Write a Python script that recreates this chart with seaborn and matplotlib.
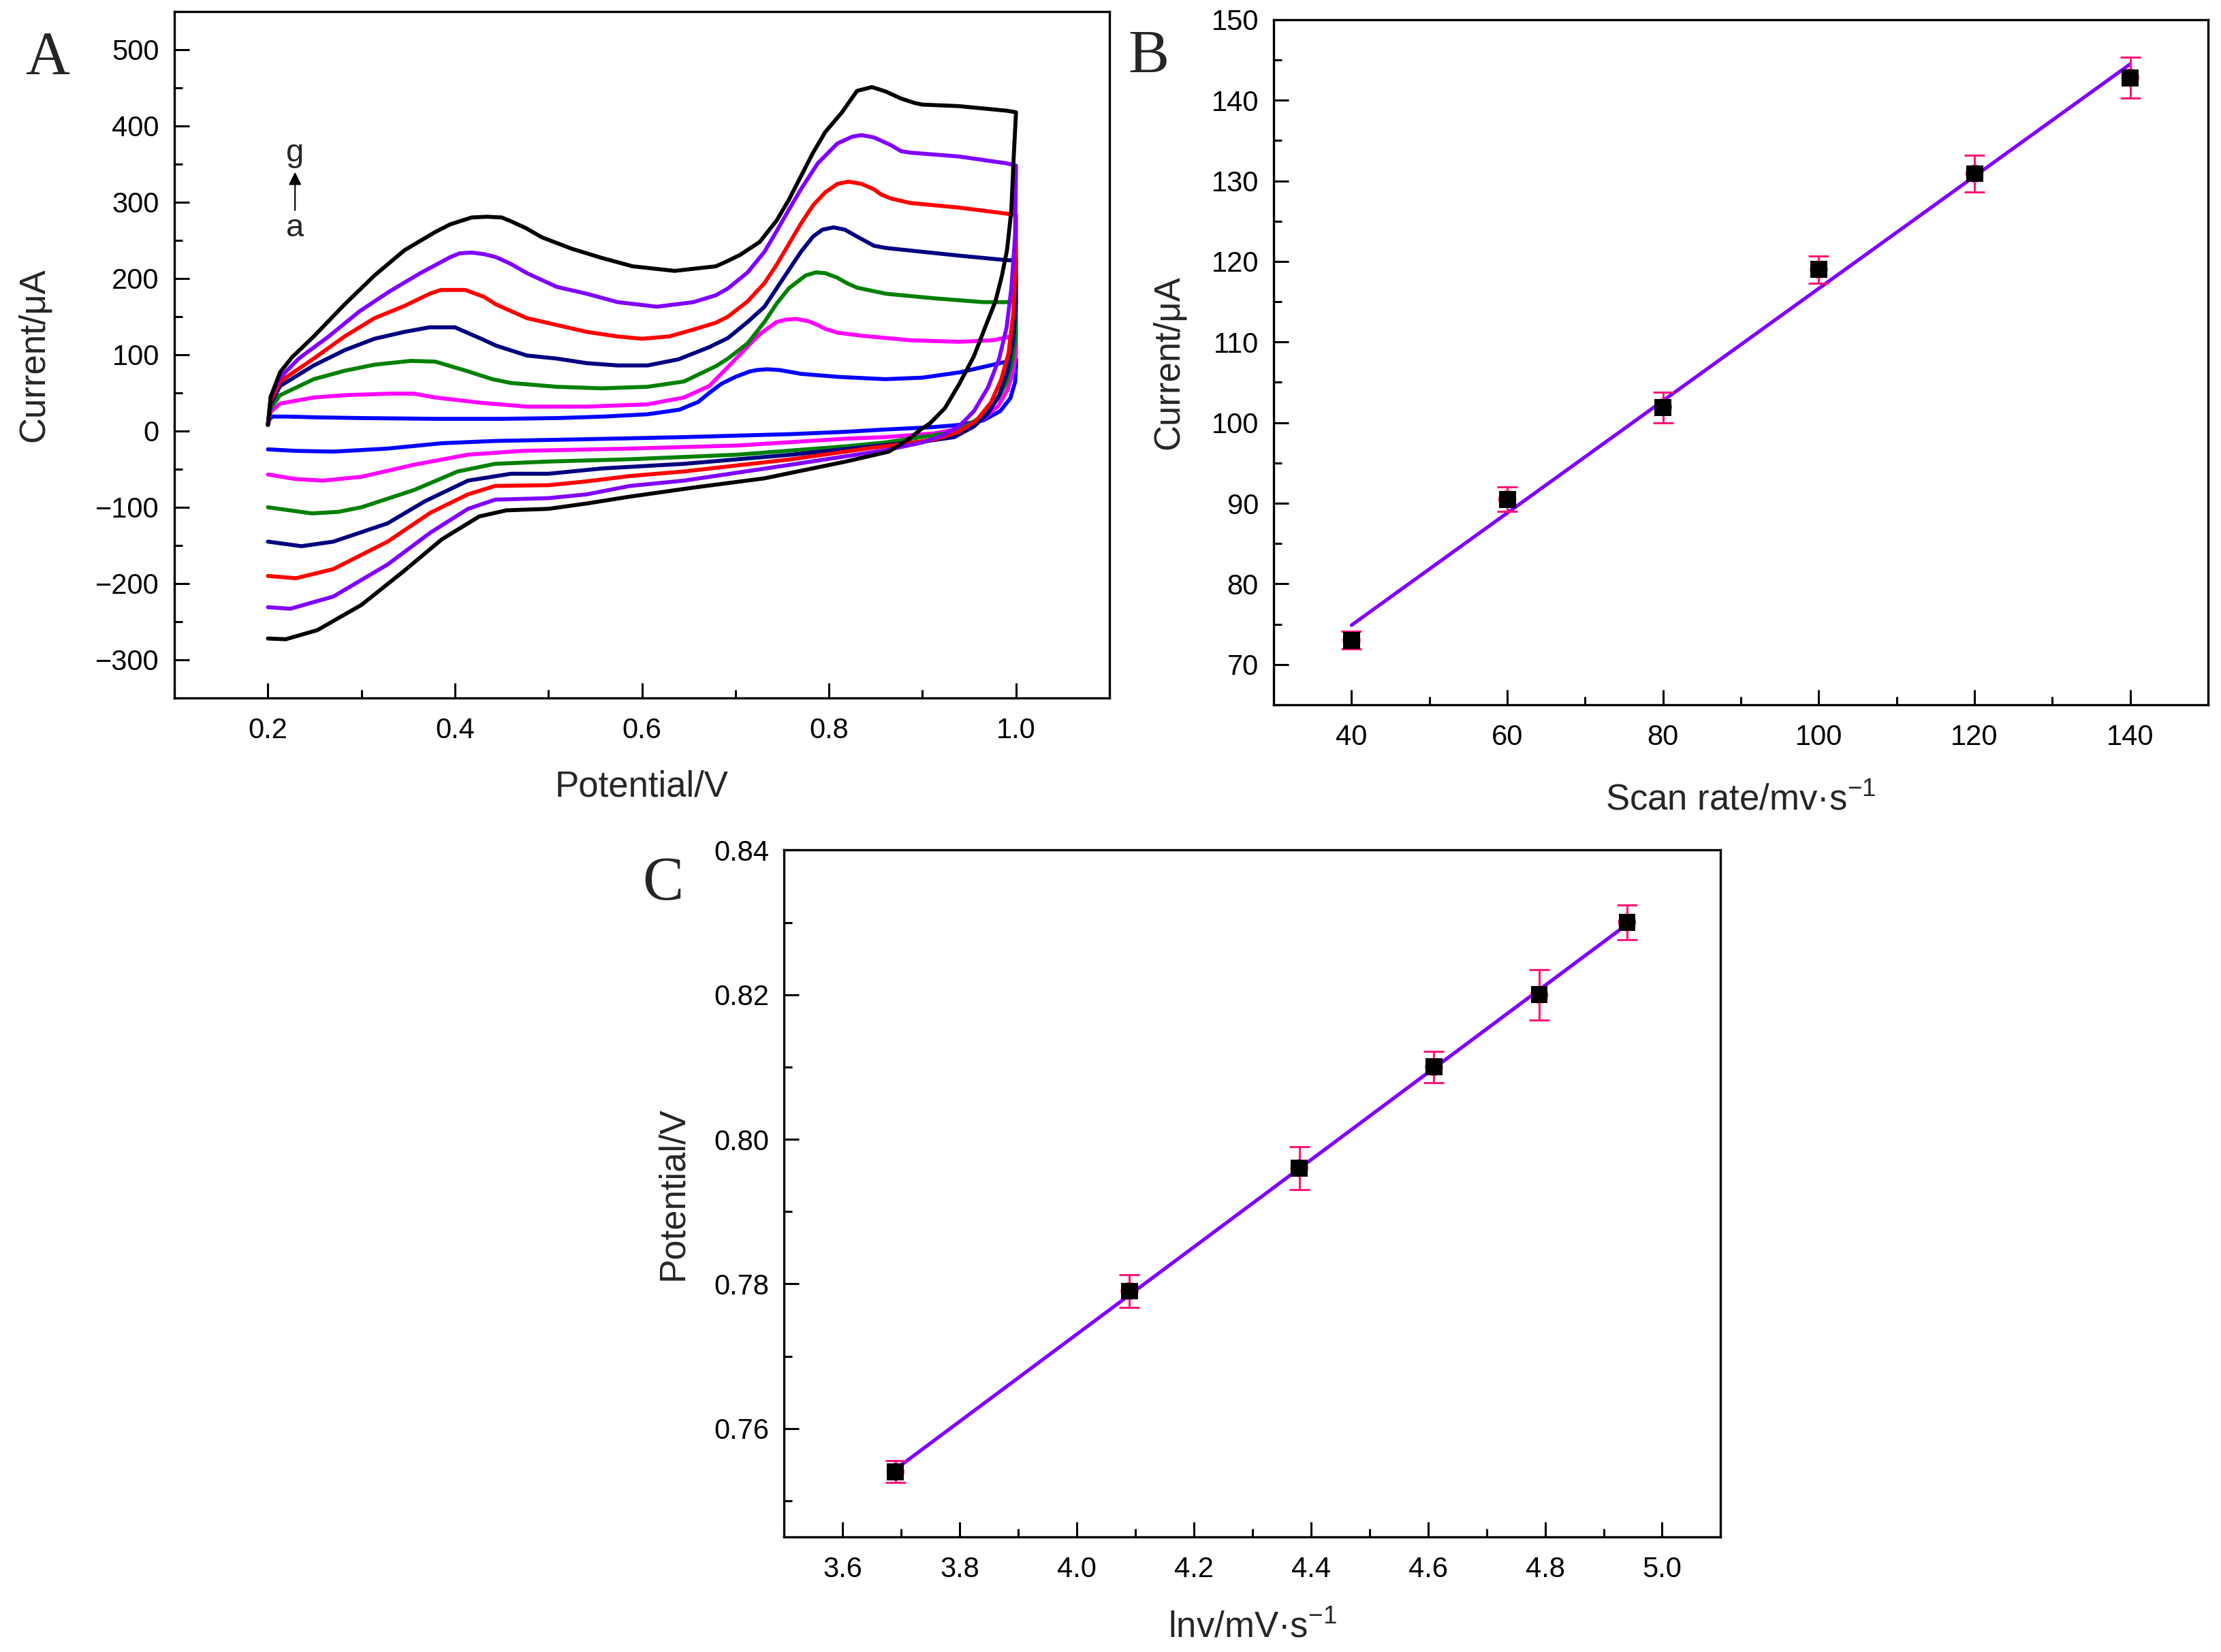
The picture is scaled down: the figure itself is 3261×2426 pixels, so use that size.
import numpy as np
import pandas as pd
import seaborn as sns
from matplotlib import pyplot as plt
from matplotlib.ticker import MultipleLocator, FormatStrFormatter

# ---- data ----
# panel A: cyclic voltammograms a..g, anodic sweep then cathodic sweep (V, uA)
cv_a_v = [0.200, 0.202, 0.205, 0.22, 0.25, 0.30, 0.38, 0.45, 0.51, 0.56, 0.606, 0.64, 0.66, 0.672, 0.685, 0.70, 0.715, 0.723, 0.734, 0.747, 0.77, 0.81, 0.86, 0.90, 0.94, 0.965, 0.99, 1.0,
          1.0, 0.999, 0.994, 0.983, 0.965, 0.939, 0.91, 0.86, 0.818, 0.76, 0.645, 0.53, 0.443, 0.386, 0.328, 0.27, 0.23, 0.2]
cv_a_i = [8, 16, 19, 19, 18, 17, 16, 16, 17, 19, 22, 28, 38, 50, 62, 71, 78, 80, 81, 80, 75, 71, 68, 70, 77, 84, 91, 95,
          84, 64, 43, 26, 14, 8, 5, 2, -1, -4, -8, -11, -13, -16, -23, -27, -26, -24]

cv_b_v = [0.2, 0.203, 0.213, 0.249, 0.282, 0.33, 0.356, 0.379, 0.428, 0.477, 0.541, 0.606, 0.645, 0.672, 0.692, 0.71, 0.726, 0.744, 0.754, 0.765, 0.778, 0.788, 0.796, 0.809, 0.835, 0.887, 0.939, 0.975, 0.991, 1.0,
          1.0, 0.997, 0.991, 0.981, 0.965, 0.939, 0.913, 0.86, 0.818, 0.702, 0.587, 0.472, 0.414, 0.357, 0.3, 0.259, 0.23, 0.2]
cv_b_i = [8, 25, 36, 44, 47, 49, 49, 44, 37, 32, 32, 35, 44, 59, 84, 107, 127, 143, 146, 147, 144, 139, 134, 129, 125, 119, 117, 119, 123, 127,
          102, 78, 54, 33, 16, 3, -3, -8, -10, -19, -23, -26, -31, -44, -60, -65, -63, -57]

cv_c_v = [0.2, 0.203, 0.213, 0.249, 0.282, 0.314, 0.353, 0.379, 0.412, 0.44, 0.46, 0.509, 0.557, 0.606, 0.645, 0.679, 0.692, 0.713, 0.731, 0.744, 0.757, 0.775, 0.786, 0.796, 0.809, 0.819, 0.83, 0.861, 0.913, 0.965, 0.99, 1.0,
          1.0, 0.996, 0.99, 0.981, 0.965, 0.947, 0.926, 0.86, 0.818, 0.702, 0.587, 0.5, 0.443, 0.403, 0.357, 0.3, 0.275, 0.247, 0.2]
cv_c_i = [8, 30, 47, 68, 79, 87, 92, 91, 79, 68, 63, 58, 56, 58, 65, 85, 95, 115, 143, 167, 187, 204, 208, 207, 201, 194, 188, 180, 174, 169, 169, 171,
          126, 91, 64, 43, 20, 7, -3, -15, -20, -31, -37, -40, -43, -53, -77, -100, -106, -108, -100]

cv_d_v = [0.2, 0.203, 0.213, 0.249, 0.282, 0.314, 0.346, 0.373, 0.4, 0.428, 0.444, 0.477, 0.509, 0.541, 0.574, 0.606, 0.639, 0.672, 0.692, 0.713, 0.731, 0.744, 0.757, 0.77, 0.783, 0.793, 0.805, 0.817, 0.83, 0.848, 0.861, 0.9, 0.939, 0.99, 1.0,
          1.0, 0.997, 0.991, 0.982, 0.97, 0.955, 0.934, 0.9, 0.846, 0.76, 0.645, 0.558, 0.5, 0.46, 0.414, 0.368, 0.328, 0.27, 0.236, 0.2]
cv_d_i = [8, 35, 59, 86, 106, 121, 130, 136, 136, 121, 112, 99, 95, 89, 86, 86, 94, 110, 122, 143, 163, 187, 211, 235, 255, 264, 267, 264, 255, 243, 240, 235, 230, 224, 224,
          170, 119, 78, 47, 23, 6, -8, -14, -20, -31, -43, -49, -56, -56, -65, -92, -121, -145, -151, -145]

cv_e_v = [0.2, 0.203, 0.213, 0.249, 0.282, 0.314, 0.346, 0.373, 0.385, 0.411, 0.431, 0.444, 0.477, 0.509, 0.541, 0.574, 0.6, 0.629, 0.655, 0.679, 0.692, 0.713, 0.731, 0.744, 0.757, 0.77, 0.783, 0.796, 0.809, 0.821, 0.835, 0.848, 0.856, 0.866, 0.887, 0.939, 0.99, 1.0,
          1.0, 0.997, 0.992, 0.984, 0.973, 0.957, 0.939, 0.913, 0.874, 0.846, 0.76, 0.645, 0.587, 0.541, 0.5, 0.443, 0.414, 0.374, 0.328, 0.27, 0.23, 0.2]
cv_e_i = [8, 40, 65, 95, 124, 148, 164, 180, 185, 185, 176, 166, 148, 139, 130, 124, 121, 124, 133, 142, 150, 170, 194, 218, 245, 272, 296, 313, 324, 327, 324, 317, 310, 305, 299, 293, 285, 283,
          221, 153, 102, 67, 37, 13, -1, -11, -18, -22, -37, -53, -59, -66, -71, -72, -83, -107, -145, -181, -193, -190]

cv_f_v = [0.2, 0.203, 0.213, 0.233, 0.265, 0.298, 0.33, 0.363, 0.395, 0.405, 0.418, 0.431, 0.444, 0.46, 0.477, 0.509, 0.541, 0.574, 0.616, 0.655, 0.679, 0.692, 0.713, 0.731, 0.744, 0.757, 0.77, 0.788, 0.809, 0.825, 0.835, 0.848, 0.866, 0.877, 0.887, 0.939, 0.99, 1.0,
          1.0, 0.999, 0.995, 0.99, 0.982, 0.97, 0.955, 0.939, 0.921, 0.9, 0.861, 0.76, 0.645, 0.587, 0.541, 0.5, 0.443, 0.414, 0.374, 0.328, 0.27, 0.224, 0.2]
cv_f_i = [8, 45, 70, 95, 124, 157, 183, 207, 228, 233, 234, 232, 228, 219, 207, 189, 180, 169, 163, 169, 178, 187, 208, 235, 262, 290, 317, 351, 377, 386, 388, 385, 375, 367, 365, 360, 351, 348,
          344, 255, 187, 136, 95, 57, 26, 6, -6, -15, -25, -44, -65, -72, -83, -88, -90, -102, -133, -175, -217, -233, -231]

cv_g_v = [0.2, 0.203, 0.213, 0.226, 0.249, 0.282, 0.314, 0.346, 0.379, 0.395, 0.405, 0.418, 0.434, 0.45, 0.46, 0.476, 0.493, 0.525, 0.557, 0.59, 0.635, 0.679, 0.69, 0.705, 0.726, 0.744, 0.757, 0.77, 0.783, 0.796, 0.814, 0.83, 0.846, 0.861, 0.877, 0.892, 0.9, 0.939, 0.99, 1.0,
          1.0, 0.9975, 0.995, 0.9905, 0.985, 0.978, 0.967, 0.955, 0.939, 0.924, 0.908, 0.898, 0.886, 0.864, 0.818, 0.731, 0.656, 0.587, 0.541, 0.5, 0.455, 0.426, 0.386, 0.345, 0.3, 0.253, 0.219, 0.2]
cv_g_i = [8, 45, 77, 97, 124, 166, 204, 237, 261, 271, 275, 280, 281, 280, 275, 266, 254, 239, 227, 216, 210, 216, 222, 231, 248, 276, 303, 334, 365, 392, 418, 446, 451, 445, 436, 430, 428, 426, 420, 418,
          417, 358, 289, 238, 204, 170, 136, 98, 61, 30, 10, 2, -10, -27, -40, -62, -74, -86, -95, -102, -104, -112, -142, -184, -228, -261, -273, -272]

cv_names = ['a', 'b', 'c', 'd', 'e', 'f', 'g']
cv_colors = ['#0000FF', '#FF00FF', '#008000', '#000080', '#FF0000', '#8000FF', '#000000']

# panel B: peak current vs scan rate
scan_rate = [40, 60, 80, 100, 120, 140]
peak_current = [73.0, 90.5, 101.9, 119.0, 130.9, 142.8]
current_err = [1.1, 1.55, 1.9, 1.7, 2.3, 2.5]

# panel C: peak potential vs ln(scan rate)
ln_rate = [3.69, 4.09, 4.38, 4.61, 4.79, 4.94]
peak_potential = [0.754, 0.779, 0.796, 0.810, 0.820, 0.830]
potential_err = [0.0015, 0.0023, 0.003, 0.0022, 0.0035, 0.0024]

# ---- style ----
sns.set_theme(style='ticks')
plt.rcParams['font.family'] = ['Liberation Sans', 'DejaVu Sans']
plt.rcParams['mathtext.default'] = 'regular'
plt.rcParams['axes.linewidth'] = 2.4
plt.rcParams['axes.edgecolor'] = 'black'
for ax_ in ['xtick', 'ytick']:
    plt.rcParams[ax_ + '.direction'] = 'in'
    plt.rcParams[ax_ + '.major.size'] = 16
    plt.rcParams[ax_ + '.minor.size'] = 8.5
    plt.rcParams[ax_ + '.major.width'] = 2.2
    plt.rcParams[ax_ + '.minor.width'] = 2.2
    plt.rcParams[ax_ + '.labelsize'] = 30
    plt.rcParams[ax_ + '.color'] = 'black'

label_fs = 38
fit_color = '#8000FF'
err_color = '#FF1477'

fig = plt.figure(figsize=(32.62, 24.26), dpi=100)
axA = fig.add_axes([0.0785, 0.5775, 0.4209, 0.4155])
axB = fig.add_axes([0.5733, 0.5734, 0.4206, 0.4147])
axC = fig.add_axes([0.3530, 0.0697, 0.4215, 0.4157])

# ---- panel A ----
cv_v = [cv_a_v, cv_b_v, cv_c_v, cv_d_v, cv_e_v, cv_f_v, cv_g_v]
cv_i = [cv_a_i, cv_b_i, cv_c_i, cv_d_i, cv_e_i, cv_f_i, cv_g_i]
for v, i, c in zip(cv_v, cv_i, cv_colors):
    sns.lineplot(x=v, y=i, sort=False, estimator=None, color=c, lw=4.2,
                 solid_joinstyle='round', ax=axA)

axA.set_xlim(0.1, 1.1)
axA.set_ylim(-350, 550)
axA.set_xticks([0.2, 0.4, 0.6, 0.8, 1.0])
axA.xaxis.set_minor_locator(MultipleLocator(0.1))
axA.xaxis.set_major_formatter(FormatStrFormatter('%.1f'))
axA.set_yticks(np.arange(-300, 501, 100))
axA.yaxis.set_minor_locator(MultipleLocator(50))
axA.set_xlabel('Potential/V', fontsize=label_fs, labelpad=27)
axA.set_ylabel('Current/μA', fontsize=label_fs, labelpad=47)

axA.annotate('', xy=(0.229, 342), xytext=(0.229, 287),
             arrowprops=dict(arrowstyle='-|>', color='black', lw=1.5, mutation_scale=28))
axA.text(0.229, 364, 'g', fontsize=34, ha='center', va='center')
axA.text(0.229, 266, 'a', fontsize=34, ha='center', va='center')

# ---- panel B ----
axB.errorbar(scan_rate, peak_current, yerr=current_err, fmt='none', ecolor=err_color,
             elinewidth=2.2, capsize=11, capthick=2.2, zorder=3)
sns.regplot(x=scan_rate, y=peak_current, scatter=False, ci=None, color=fit_color,
            line_kws=dict(lw=3.8), ax=axB)
sns.scatterplot(x=scan_rate, y=peak_current, marker='o', s=360, color=err_color,
                edgecolor='none', zorder=4, ax=axB)
sns.scatterplot(x=scan_rate, y=peak_current, marker='s', s=320, color='black',
                edgecolor='none', zorder=5, ax=axB)
axB.set_xlim(30, 150)
axB.set_ylim(65, 150)
axB.set_xticks([40, 60, 80, 100, 120, 140])
axB.xaxis.set_minor_locator(MultipleLocator(10))
axB.yaxis.set_major_locator(MultipleLocator(10))
axB.yaxis.set_minor_locator(MultipleLocator(5))
axB.set_xlabel('Scan rate/mv·s$^{-1}$', fontsize=label_fs, labelpad=34)
axB.set_ylabel('Current/μA', fontsize=label_fs, labelpad=27)

# ---- panel C ----
axC.errorbar(ln_rate, peak_potential, yerr=potential_err, fmt='none', ecolor=err_color,
             elinewidth=2.2, capsize=11, capthick=2.2, zorder=3)
sns.regplot(x=ln_rate, y=peak_potential, scatter=False, ci=None, color=fit_color,
            line_kws=dict(lw=3.8), ax=axC)
sns.scatterplot(x=ln_rate, y=peak_potential, marker='o', s=360, color=err_color,
                edgecolor='none', zorder=4, ax=axC)
sns.scatterplot(x=ln_rate, y=peak_potential, marker='s', s=320, color='black',
                edgecolor='none', zorder=5, ax=axC)
axC.set_xlim(3.5, 5.1)
axC.set_ylim(0.745, 0.84)
axC.set_xticks([3.6, 3.8, 4.0, 4.2, 4.4, 4.6, 4.8, 5.0])
axC.xaxis.set_minor_locator(MultipleLocator(0.1))
axC.xaxis.set_major_formatter(FormatStrFormatter('%.1f'))
axC.set_yticks([0.76, 0.78, 0.80, 0.82, 0.84])
axC.yaxis.set_minor_locator(MultipleLocator(0.01))
axC.yaxis.set_major_formatter(FormatStrFormatter('%.2f'))
axC.set_xlabel('lnv/mV·s$^{-1}$', fontsize=label_fs, labelpad=29)
axC.set_ylabel('Potential/V', fontsize=label_fs, labelpad=25)

for ax in [axA, axB, axC]:
    for side in ['top', 'right', 'left', 'bottom']:
        ax.spines[side].set_visible(True)
        ax.spines[side].set_linewidth(2.4)
    ax.tick_params(axis='x', which='both', pad=20, top=False)
    ax.tick_params(axis='y', which='both', pad=16, right=False)
    ax.grid(False)

# panel letters
panel_font = ['Liberation Serif', 'DejaVu Serif']
fig.text(37 / 3262, 1 - 109 / 2426, 'A', fontsize=65, family=panel_font, va='baseline')
fig.text(1656 / 3262, 1 - 107 / 2426, 'B', fontsize=65, family=panel_font, va='baseline')
fig.text(943 / 3262, 1 - 1321 / 2426, 'C', fontsize=65, family=panel_font, va='baseline')

fig.savefig('out.png', dpi=100, facecolor='white')
